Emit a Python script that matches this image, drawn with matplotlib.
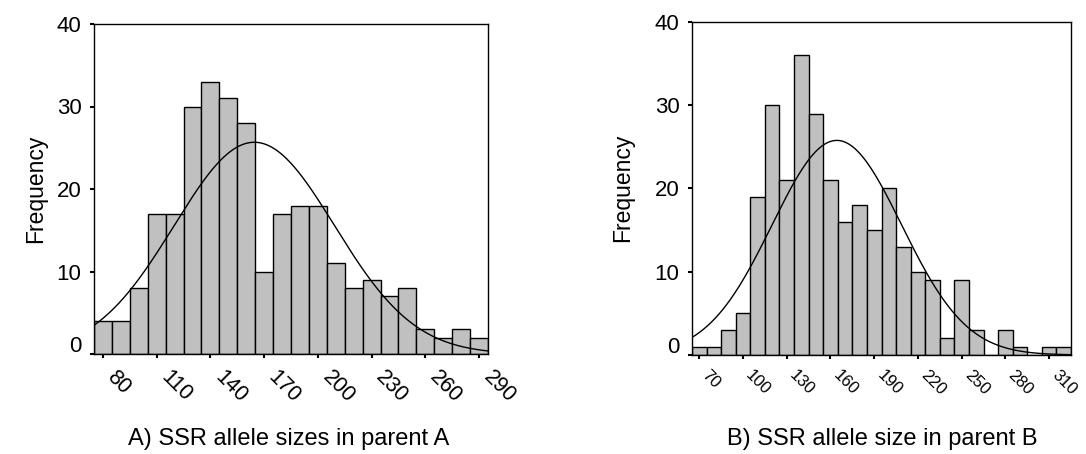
import numpy as np
import matplotlib
matplotlib.use("Agg")
import matplotlib.pyplot as plt
import matplotlib.transforms as mtransforms

plt.rcParams['font.family'] = ['Liberation Sans', 'DejaVu Sans']

# ---- Data: parent A (bins centered at 80..290, width 10)
centers_a = list(range(80, 300, 10))
counts_a = [4, 4, 8, 17, 17, 30, 33, 31, 28, 10, 17, 18, 18, 11, 8, 9, 7, 8, 3, 2, 3, 2]
xticks_a = [80, 110, 140, 170, 200, 230, 260, 290]

# ---- Data: parent B (bins centered at 70..320, width 10)
centers_b = list(range(70, 330, 10))
counts_b = [1, 1, 3, 5, 19, 30, 21, 36, 29, 21, 16, 18, 15, 20, 13, 10, 9, 2, 9, 3, 0, 3, 1, 0, 1, 1]
xticks_b = [70, 100, 130, 160, 190, 220, 250, 280, 310]

yticks = [0, 10, 20, 30, 40]
bin_width = 10
titles = ["A) SSR allele sizes in parent A", "B) SSR allele size in parent B"]

W, H = 1086, 454
fig = plt.figure(figsize=(W / 100, H / 100), dpi=100)

def px_axes(l, r, t, b):
    return fig.add_axes([l / W, 1 - b / H, (r - l) / W, (b - t) / H])

ax_a = px_axes(94, 488, 24, 354)
ax_b = px_axes(692, 1071, 22, 355)

FS_YTICK = 16
FS_LABEL = 16.5
FS_TITLE = 17

def draw(ax, centers, counts, xticks, xtick_fs):
    centers = np.array(centers, float)
    counts = np.array(counts, float)
    ax.bar(centers, counts, width=bin_width, color='#c0c0c0', edgecolor='black',
           linewidth=1.0, zorder=2)
    n = counts.sum()
    mu = (centers * counts).sum() / n
    sd = np.sqrt((counts * (centers - mu) ** 2).sum() / (n - 1))
    lo, hi = centers[0] - bin_width / 2, centers[-1] + bin_width / 2
    xs = np.linspace(lo, hi, 400)
    ys = n * bin_width / (sd * np.sqrt(2 * np.pi)) * np.exp(-0.5 * ((xs - mu) / sd) ** 2)
    ax.plot(xs, ys, color='black', linewidth=1.0, zorder=3)
    ax.set_xlim(lo, hi)
    ax.set_ylim(0, 40)
    ax.set_yticks(yticks)
    ax.set_yticklabels([str(v) for v in yticks], fontsize=FS_YTICK)
    ax.set_xticks(xticks)
    ax.set_xticklabels([str(v) for v in xticks], rotation=-45, ha='left',
                       fontsize=xtick_fs)
    ax.tick_params(axis='both', direction='out', length=3, width=1.5, colors='black')
    ax.tick_params(axis='y', pad=6)
    ax.tick_params(axis='x', pad=6)
    for s in ax.spines.values():
        s.set_linewidth(1.0)
    # SPSS-style: raise the "0" label a little
    lab0 = ax.get_yticklabels()[0]
    off = mtransforms.ScaledTranslation(0, 7 / 72, fig.dpi_scale_trans)
    lab0.set_transform(lab0.get_transform() + off)

draw(ax_a, centers_a, counts_a, xticks_a, 15.5)
draw(ax_b, centers_b, counts_b, xticks_b, 12)

# y-axis labels
fig.text(36 / W, 1 - 189 / H, 'Frequency', rotation=90, ha='center', va='center',
         fontsize=FS_LABEL)
fig.text(623 / W, 1 - 188 / H, 'Frequency', rotation=90, ha='center', va='center',
         fontsize=FS_LABEL)

fig.text(289 / W, 1 - 445 / H, titles[0], ha='center', va='baseline', fontsize=FS_TITLE)
fig.text(882 / W, 1 - 445 / H, titles[1], ha='center', va='baseline', fontsize=FS_TITLE)

fig.savefig('out.png', dpi=100)
